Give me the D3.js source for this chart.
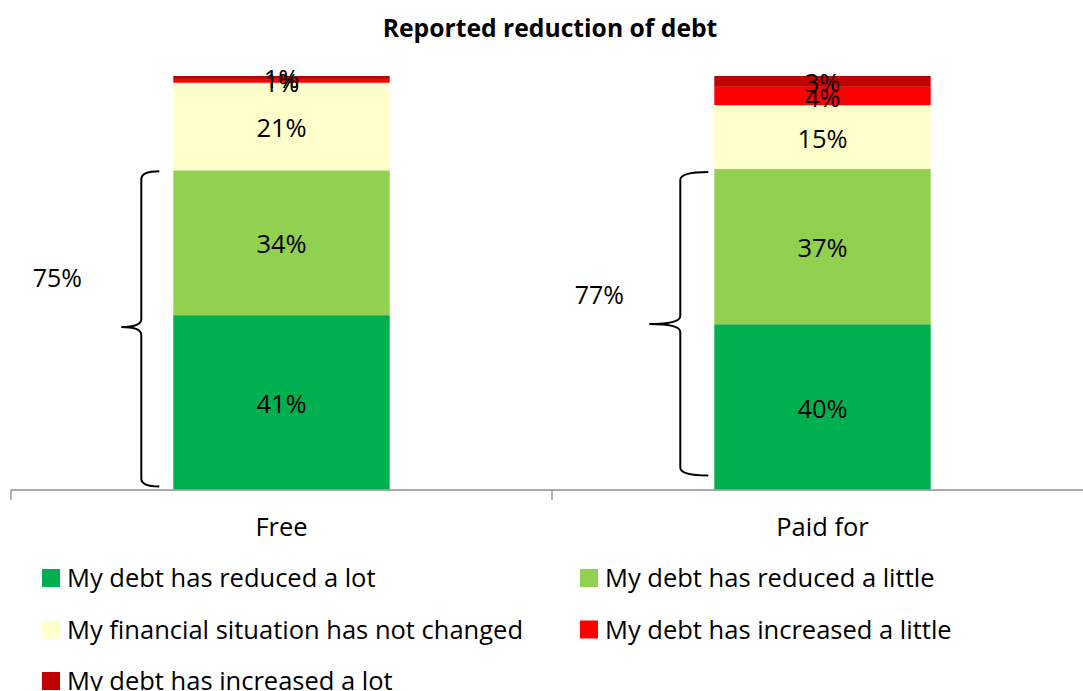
<!DOCTYPE html>
<html>
<head>
<meta charset="utf-8">
<script src="https://cdn.jsdelivr.net/npm/d3@7"></script>
<style>
  html, body { margin: 0; padding: 0; background: #fff; }
  svg { display: block; font-family: "Open Sans", Lato, sans-serif; }
</style>
</head>
<body>
<svg id="chart" width="1083" height="691"></svg>
<script>
const title = "Reported reduction of debt";
const categories = ["Free", "Paid for"];
const seriesNames = [
  "My debt has reduced a lot",
  "My debt has reduced a little",
  "My financial situation has not changed",
  "My debt has increased a little",
  "My debt has increased a lot"
];
const seriesColors = ["#00B050", "#92D050", "#FFFFCC", "#FF0000", "#C00000"];
const freeValues = [41.4, 34.4, 20.8, 0.9, 0.7];
const paidValues = [39.6, 37.2, 15.3, 4.4, 2.6];
const reducedTotals = ["75%", "77%"];

const W = 1083, H = 691;
const svg = d3.select("#chart");

const rows = categories.map((c, i) => {
  const vals = i === 0 ? freeValues : paidValues;
  const o = { category: c };
  seriesNames.forEach((s, j) => o[s] = vals[j]);
  return o;
});

const stack = d3.stack().keys(seriesNames).offset(d3.stackOffsetExpand);
const stacked = stack(rows);

const x = d3.scaleBand().domain(categories).range([11, 1093]).padding(0);
const y = d3.scaleLinear().domain([0, 1]).range([489.5, 76]);
const barW = x.bandwidth() * 0.4;
const barX = c => x(c) + (x.bandwidth() - barW) / 2;

const color = d3.scaleOrdinal().domain(seriesNames).range(seriesColors);

// Title
svg.append("text")
  .attr("x", 550).attr("y", 37)
  .attr("text-anchor", "middle")
  .attr("font-weight", "bold")
  .attr("font-size", 24.7)
  .text(title);

// Bars
const layers = svg.append("g").selectAll("g").data(stacked).join("g")
  .attr("fill", d => color(d.key));
layers.selectAll("rect").data(d => d).join("rect")
  .attr("x", d => barX(d.data.category))
  .attr("width", barW)
  .attr("y", d => y(d[1]))
  .attr("height", d => y(d[0]) - y(d[1]));

// Data labels
const labG = svg.append("g").attr("font-size", 25.5).attr("fill", "#000").attr("text-anchor", "middle");
stacked.forEach(layer => {
  layer.forEach(d => {
    labG.append("text")
      .attr("x", barX(d.data.category) + barW / 2)
      .attr("y", (y(d[0]) + y(d[1])) / 2)
      .attr("dy", "0.42em")
      .text(Math.round(d.data[layer.key]) + "%");
  });
});

// Axis
const axis = svg.append("g").attr("stroke", "#8c8c8c").attr("stroke-width", 1.3);
axis.append("line").attr("x1", x.range()[0]).attr("x2", W).attr("y1", y(0) + 0.5).attr("y2", y(0) + 0.5);
const bounds = categories.map(c => x(c)).concat([x.range()[1]]);
axis.selectAll("line.tick").data(bounds).join("line")
  .attr("class", "tick")
  .attr("x1", d => d).attr("x2", d => d)
  .attr("y1", y(0) + 0.5).attr("y2", y(0) + 10.5);

svg.append("g").attr("font-size", 25.5).attr("text-anchor", "middle")
  .selectAll("text").data(categories).join("text")
  .attr("x", c => x(c) + x.bandwidth() / 2)
  .attr("y", 536)
  .text(c => c);

// Braces (annotation)
function brace(xe, xv, xt, yt, yb, ym) {
  const r = 8;
  return `M${xe},${yt} Q${xv},${yt} ${xv},${yt + r} L${xv},${ym - r} Q${xv},${ym} ${xt},${ym} ` +
         `M${xt},${ym} Q${xv},${ym} ${xv},${ym + r} L${xv},${yb - r} Q${xv},${yb} ${xe},${yb}`;
}
const braceG = svg.append("g").attr("fill", "none").attr("stroke", "#000").attr("stroke-width", 2);
const freeX = barX(categories[0]);
const paidX = barX(categories[1]);
const topFree = y(stacked[1][0][1]);
const topPaid = y(stacked[1][1][1]);
braceG.append("path").attr("d", brace(freeX - 14, freeX - 32, freeX - 52, topFree + 1, y(0) - 3, 327));
braceG.append("path").attr("d", brace(paidX - 6, paidX - 34, paidX - 65, topPaid + 3, y(0) - 14, 324));

svg.append("g").attr("font-size", 25).attr("text-anchor", "middle")
  .selectAll("text").data(reducedTotals).join("text")
  .attr("x", (d, i) => i === 0 ? freeX - 116 : paidX - 115)
  .attr("y", (d, i) => i === 0 ? 287 : 304)
  .text(d => d);

// Legend
const legend = svg.append("g").attr("font-size", 25.5);
seriesNames.forEach((s, i) => {
  const col = i % 2, row = Math.floor(i / 2);
  const lx = 42 + col * 538, ly = 578 + row * 51.5;
  legend.append("rect").attr("x", lx).attr("y", ly - 9).attr("width", 18).attr("height", 18).attr("fill", seriesColors[i]);
  legend.append("text").attr("x", lx + 25).attr("y", ly).attr("dy", "0.36em").text(s);
});
</script>
</body>
</html>
